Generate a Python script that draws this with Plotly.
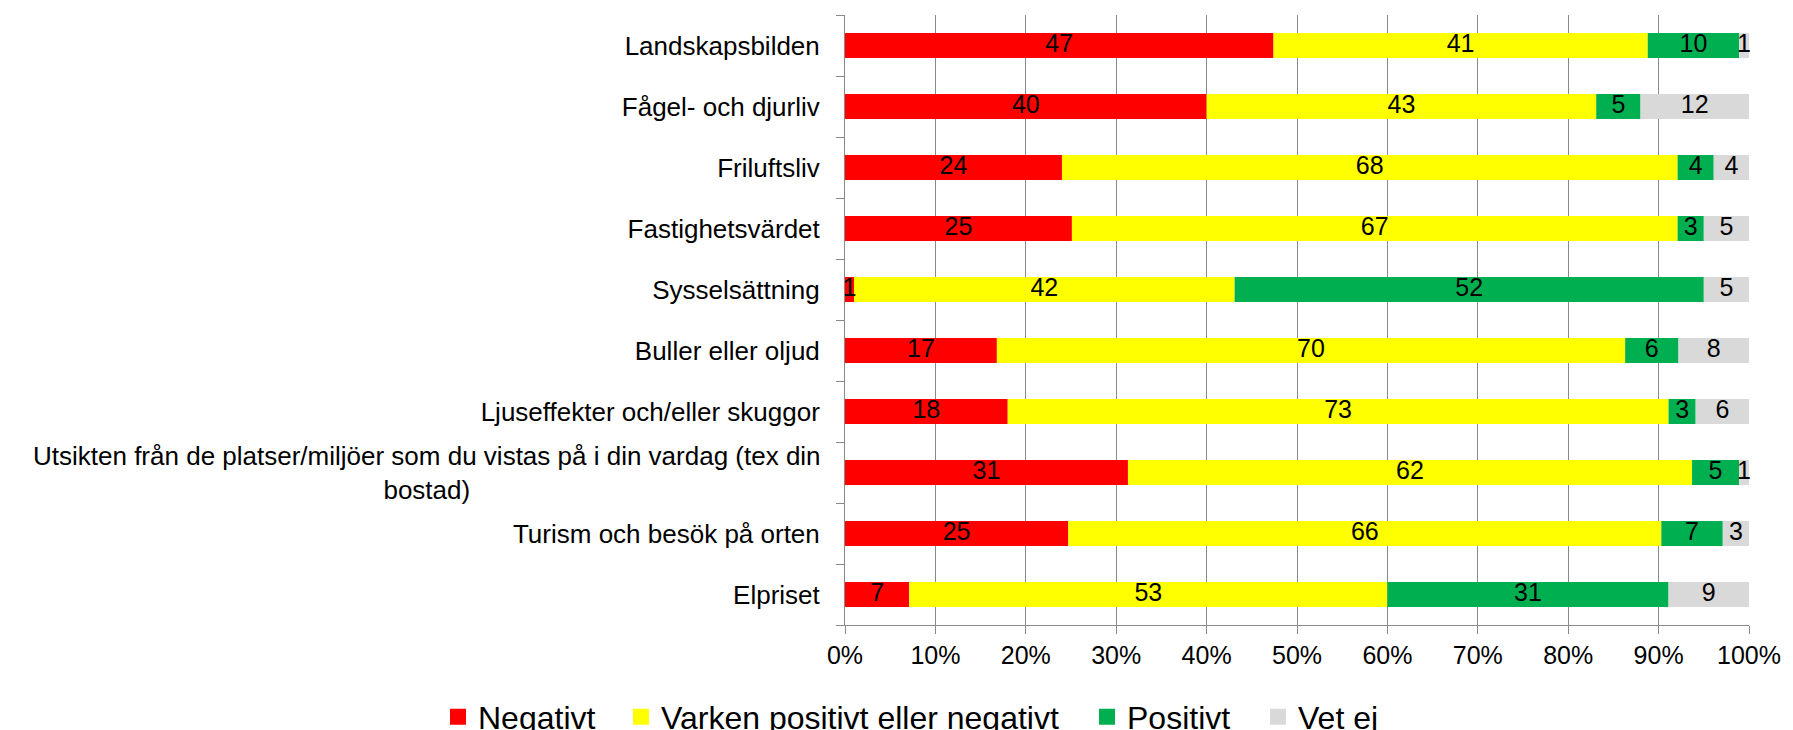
import plotly.graph_objects as go

categories = [
    "Landskapsbilden",
    "Fågel- och djurliv",
    "Friluftsliv",
    "Fastighetsvärdet",
    "Sysselsättning",
    "Buller eller oljud",
    "Ljuseffekter och/eller skuggor",
    "Utsikten från de platser/miljöer som du vistas på i din vardag (tex din<br>bostad)",
    "Turism och besök på orten",
    "Elpriset",
]

negativt = [47.4, 40.0, 24.0, 25.1, 1.0, 16.8, 18.0, 31.3, 24.7, 7.1]
varken = [41.4, 43.1, 68.1, 67.0, 42.1, 69.5, 73.1, 62.4, 65.6, 52.9]
positivt = [10.1, 4.9, 4.0, 2.9, 51.9, 5.9, 3.0, 5.2, 6.8, 31.1]
vet_ej = [1.1, 12.0, 3.9, 5.0, 5.0, 7.8, 5.9, 1.1, 2.9, 8.9]

series_names = ["Negativt", "Varken positivt eller negativt", "Positivt", "Vet ej"]
series_values = [negativt, varken, positivt, vet_ej]
series_colors = ["#FF0000", "#FFFF00", "#00B050", "#D9D9D9"]

x_ticks = [0, 10, 20, 30, 40, 50, 60, 70, 80, 90, 100]
x_ticktext = [f"{v}%" for v in x_ticks]

FONT = "Liberation Sans, Arial, sans-serif"
GRID = "#898989"
W, H = 1793, 730

fig = go.Figure()
base = [0.0] * len(categories)
for name, vals, col in zip(series_names, series_values, series_colors):
    fig.add_trace(go.Bar(
        y=categories, x=vals, base=base[:], name=name, orientation="h",
        marker=dict(color=col, line=dict(width=0)),
        showlegend=False, hoverinfo="skip",
    ))
    mids = [b + v / 2 for b, v in zip(base, vals)]
    fig.add_trace(go.Scatter(
        y=categories, x=mids, mode="text",
        text=[f"{round(v)}" for v in vals],
        textposition="middle center",
        textfont=dict(family=FONT, size=25, color="black"),
        showlegend=False, hoverinfo="skip", cliponaxis=False,
    ))
    base = [b + v for b, v in zip(base, vals)]

# one legend per entry, so the entries can be spaced like the reference
legend_ids = ["legend", "legend2", "legend3", "legend4"]
legend_left_px = [438, 621, 1087, 1258]
for name, col, lid in zip(series_names, series_colors, legend_ids):
    fig.add_trace(go.Scatter(
        x=[None], y=[None], mode="markers", name=name,
        marker=dict(symbol="square", size=16, color=col),
        showlegend=True, hoverinfo="skip", legend=lid,
    ))

long_cat = categories[7]
ticktext = ["" if c == long_cat else c for c in categories]

fig.add_annotation(
    x=0, xref="paper", xanchor="right", xshift=-22,
    y=long_cat, yref="y", yanchor="middle",
    text=long_cat, align="center", showarrow=False,
    font=dict(family=FONT, size=26, color="black"),
)

legend_layout = {}
for lid, lx in zip(legend_ids, legend_left_px):
    legend_layout[lid] = dict(
        orientation="h", xref="container", yref="container",
        x=lx / W, xanchor="left", y=0.0555, yanchor="top",
        font=dict(family=FONT, size=32, color="black"),
        itemwidth=30, bgcolor="rgba(0,0,0,0)",
    )

fig.update_layout(
    barmode="overlay",
    width=W, height=H,
    margin=dict(l=845, r=38, t=15, b=105),
    paper_bgcolor="white", plot_bgcolor="white",
    font=dict(family=FONT, color="black"),
    showlegend=True,
    xaxis=dict(
        range=[0, 100], tickvals=x_ticks, ticktext=x_ticktext,
        showgrid=True, gridcolor=GRID, gridwidth=1,
        showline=True, linecolor=GRID, linewidth=1,
        ticks="outside", ticklen=8, tickcolor=GRID,
        zeroline=False,
        tickfont=dict(family=FONT, size=25, color="black"),
    ),
    yaxis=dict(
        type="category", categoryorder="array", categoryarray=categories,
        autorange="reversed",
        tickmode="array", tickvals=categories, ticktext=ticktext,
        tickson="boundaries", ticks="outside", ticklen=8, tickcolor=GRID,
        showline=True, linecolor=GRID, linewidth=1,
        showgrid=False, zeroline=False,
        ticklabelstandoff=19,
        tickfont=dict(family=FONT, size=26, color="black"),
    ),
    bargap=0.59,
    **legend_layout,
)

fig.write_html(
    "out.html",
    config={"displayModeBar": False},
    post_script="document.body.style.margin='0';document.body.style.overflow='hidden';",
)
